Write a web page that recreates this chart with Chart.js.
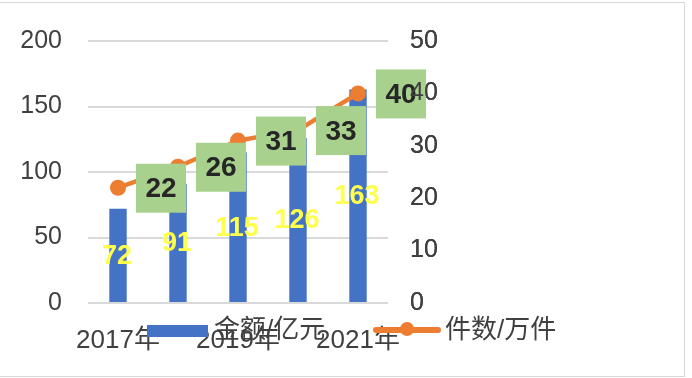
<!DOCTYPE html>
<html>
<head>
<meta charset="utf-8">
<script src="https://cdn.jsdelivr.net/npm/chart.js@4/dist/chart.umd.min.js"></script>
<style>
  html, body { margin: 0; padding: 0; background: #fff; }
  #wrap { position: relative; width: 692px; height: 378px; overflow: hidden; }
  #frame { position: absolute; left: -2px; top: 2px; width: 685px; height: 373px; border: 1.5px solid #d9d9d9; pointer-events: none; }
  canvas { position: absolute; left: 0; top: 0; }
</style>
</head>
<body>
<div id="wrap">
  <canvas id="chart" width="692" height="378"></canvas>
  <div id="frame"></div>
</div>
<script>
// 金额 / 件数 by year
const years = ["2017年", "2018年", "2019年", "2020年", "2021年"];
const amountValues = [72, 91, 115, 126, 163];   // 金额/亿元 (left axis)
const countValues = [22, 26, 31, 33, 40];       // 件数/万件 (right axis)
const leftTicks = [0, 50, 100, 150, 200];
const rightTicks = [0, 10, 20, 30, 40, 50];

const FONT = '"Liberation Sans", "Noto Sans CJK SC", Arial, sans-serif';
const BLUE = "#4472C4";
const ORANGE = "#ED7D31";
const TICK = "#404040";

// labels + legend drawn straight on the canvas
const labelPlugin = {
  id: "labels",
  afterDatasetsDraw(chart) {
    const ctx = chart.ctx;
    ctx.save();
    ctx.textAlign = "center";
    ctx.textBaseline = "middle";

    const bars = chart.getDatasetMeta(0).data;
    ctx.font = "bold 27px " + FONT;
    ctx.fillStyle = "#FFFF4D";
    bars.forEach((bar, i) => {
      ctx.fillText(String(amountValues[i]), bar.x - 1, (bar.y + bar.base) / 2 + 1);
    });

    const pts = chart.getDatasetMeta(1).data;
    pts.forEach((pt, i) => {
      const cx = pt.x + 43, cy = pt.y + 1;
      ctx.fillStyle = "#A9D18E";
      ctx.fillRect(cx - 25, cy - 25, 50, 49);
      ctx.fillStyle = "#262626";
      ctx.font = "bold 28px " + FONT;
      ctx.fillText(String(countValues[i]), cx, cy + 1);
    });
    ctx.restore();
    // right-hand tick labels sit on top of the boxes
    chart.scales.y1.draw(chart.chartArea);
  },
  afterDraw(chart) {
    const ctx = chart.ctx;
    ctx.save();
    ctx.textBaseline = "middle";
    ctx.textAlign = "left";
    ctx.font = "26px " + FONT;

    ctx.fillStyle = BLUE;
    ctx.fillRect(147, 325, 61, 12);
    ctx.fillStyle = TICK;
    ctx.fillText("金额/亿元", 214, 331);

    ctx.strokeStyle = ORANGE;
    ctx.lineWidth = 6;
    ctx.lineCap = "round";
    ctx.beginPath();
    ctx.moveTo(376, 330);
    ctx.lineTo(438, 330);
    ctx.stroke();
    ctx.fillStyle = ORANGE;
    ctx.beginPath();
    ctx.arc(407, 329, 7, 0, Math.PI * 2);
    ctx.fill();
    ctx.fillStyle = TICK;
    ctx.fillText("件数/万件", 445, 331);
    ctx.restore();
  }
};

new Chart(document.getElementById("chart"), {
  data: {
    labels: years,
    datasets: [
      {
        type: "bar",
        label: "金额/亿元",
        data: amountValues,
        backgroundColor: BLUE,
        yAxisID: "y",
        categoryPercentage: 1,
        barPercentage: 0.29,
        order: 2
      },
      {
        type: "line",
        label: "件数/万件",
        data: countValues,
        borderColor: ORANGE,
        backgroundColor: ORANGE,
        borderWidth: 4.5,
        pointRadius: 8,
        pointHoverRadius: 8,
        pointBackgroundColor: ORANGE,
        pointBorderWidth: 0,
        tension: 0,
        yAxisID: "y1",
        order: 1
      }
    ]
  },
  options: {
    responsive: false,
    animation: false,
    layout: { padding: { top: 36, left: 0, right: 0, bottom: 0 } },
    plugins: {
      legend: { display: false },
      tooltip: { enabled: false }
    },
    scales: {
      x: {
        grid: { display: false, drawTicks: false },
        border: { display: false },
        afterFit: s => { s.height = 75; },
        ticks: {
          autoSkip: false,
          maxRotation: 0,
          padding: 22,
          color: TICK,
          font: { family: FONT, size: 26 },
          callback: function (v, i) { return i % 2 === 0 ? this.getLabelForValue(v) : ""; }
        }
      },
      y: {
        position: "left",
        min: 0,
        max: 200,
        afterFit: s => { s.width = 88; },
        afterBuildTicks: s => { s.ticks = leftTicks.map(v => ({ value: v })); },
        grid: { color: "#d9d9d9", lineWidth: 2, drawTicks: false },
        border: { display: false },
        ticks: { padding: 26, color: TICK, font: { family: FONT, size: 25 } }
      },
      y1: {
        position: "right",
        min: 0,
        max: 50,
        afterFit: s => { s.width = 304; },
        afterBuildTicks: s => { s.ticks = rightTicks.map(v => ({ value: v })); },
        grid: { display: false, drawTicks: false },
        border: { display: false },
        ticks: { padding: 22, color: TICK, font: { family: FONT, size: 25 } }
      }
    }
  },
  plugins: [labelPlugin]
});
</script>
</body>
</html>
